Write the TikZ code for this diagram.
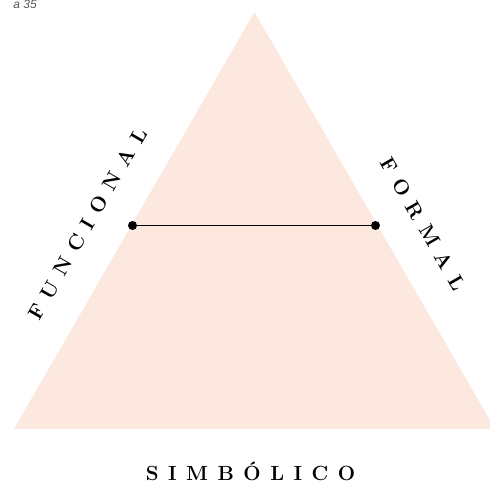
\documentclass[tikz,border=0pt]{standalone}
\usepackage{fontspec}
\newfontfamily\capsans{Liberation Sans}
\definecolor{pinkfill}{HTML}{FCE8DE}
\definecolor{capgray}{HTML}{555555}
\newcommand\lsp{\hspace{9.5pt}}
\tikzset{
  lab/.style={font=\fontsize{20.5}{20.5}\selectfont\bfseries, inner sep=0pt, text=black},
  dotpt/.style={circle, fill=black, inner sep=0pt, minimum size=9pt},
  joinline/.style={line width=1.2pt, black}
}
\begin{document}
\begin{tikzpicture}[x=1pt,y=1pt]
\useasboundingbox (0,0) rectangle (490,486);
\clip (0,0) rectangle (490,486);
\fill[pinkfill] (254.5,474) -- (14,57) -- (495,57) -- cycle;
\node[dotpt] (l) at (132.5,260.5) {};
\node[dotpt] (r) at (375.5,260.5) {};
\draw[joinline] (l) -- (r);
\node[lab, rotate=60] (fun) at (87.5,262) {F\lsp U\lsp N\lsp C\lsp I\lsp O\lsp N\lsp A\lsp L};
\node[lab, rotate=-60] (for) at (423,262) {F\lsp O\lsp R\lsp M\lsp A\lsp L};
\node[lab, anchor=base] (sim) at (250.5,5.5) {S\lsp I\lsp M\lsp B\lsp Ó\lsp L\lsp I\lsp C\lsp O};
\node[anchor=base east, inner sep=0pt, font=\capsans\itshape\fontsize{12}{12}\selectfont, text=capgray] (cap) at (37,477.5) {a 35};
\end{tikzpicture}
\end{document}
